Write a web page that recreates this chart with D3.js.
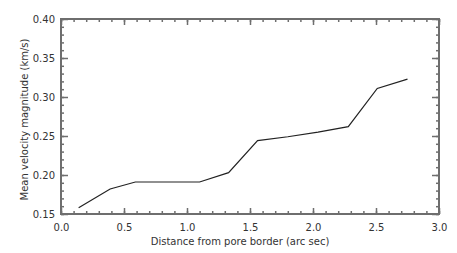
<!DOCTYPE html>
<html>
<head>
<meta charset="utf-8">
<script src="https://cdn.jsdelivr.net/npm/d3@7"></script>
<style>
  body { margin: 0; background: #fff; }
  text { font-family: "DejaVu Sans", sans-serif; font-size: 10px; fill: #333; }
</style>
</head>
<body>
<div id="container"></div>
<script>
// distance from pore border (arc sec) and mean velocity (km/s)
var distance = [0.14, 0.39, 0.59, 1.10, 1.33, 1.56, 1.80, 2.04, 2.28, 2.51, 2.75];
var velocity = [0.158, 0.182, 0.191, 0.191, 0.203, 0.244, 0.249, 0.255, 0.262, 0.311, 0.323];

var xTicks = [0.0, 0.5, 1.0, 1.5, 2.0, 2.5, 3.0];
var yTicks = [0.15, 0.20, 0.25, 0.30, 0.35, 0.40];

var W = 457, H = 253;
var pLeft = 61, pRight = 439, pTop = 19, pBottom = 214;

var svg = d3.select("#container").append("svg")
    .attr("width", W)
    .attr("height", H);

var x = d3.scaleLinear().domain([0, 3]).range([pLeft, pRight]);
var y = d3.scaleLinear().domain([0.15, 0.40]).range([pBottom, pTop]);

var axisColor = "#6e6e6e";

// minor ticks
var xMinor = d3.range(0, 3.0001, 0.1);
var yMinor = d3.range(0.15, 0.40001, 0.01);

function axisG(axis, tx, ty) {
  var g = svg.append("g")
    .attr("transform", "translate(" + tx + "," + ty + ")")
    .call(axis);
  g.select(".domain").remove();
  g.selectAll("line").attr("stroke", axisColor).attr("stroke-width", 1.5);
  return g;
}

// bottom axis with labels
var gb = axisG(d3.axisBottom(x).tickValues(xTicks).tickSize(-6).tickPadding(10)
  .tickFormat(d3.format(".1f")), 0, pBottom);
gb.selectAll("text").attr("fill", "#333").style("font-size", "10px");
axisG(d3.axisBottom(x).tickValues(xMinor).tickSize(-3).tickFormat(""), 0, pBottom);

// top axis, ticks only
axisG(d3.axisTop(x).tickValues(xTicks).tickSize(-6).tickFormat(""), 0, pTop);
axisG(d3.axisTop(x).tickValues(xMinor).tickSize(-3).tickFormat(""), 0, pTop);

// left axis with labels
var gl = axisG(d3.axisLeft(y).tickValues(yTicks).tickSize(-7).tickPadding(6)
  .tickFormat(d3.format(".2f")), pLeft, 0);
gl.selectAll("text").attr("fill", "#333").style("font-size", "10px");
axisG(d3.axisLeft(y).tickValues(yMinor).tickSize(-3).tickFormat(""), pLeft, 0);

// right axis, ticks only
axisG(d3.axisRight(y).tickValues(yTicks).tickSize(-7).tickFormat(""), pRight, 0);
axisG(d3.axisRight(y).tickValues(yMinor).tickSize(-3).tickFormat(""), pRight, 0);

// frame
svg.append("rect")
  .attr("x", pLeft).attr("y", pTop)
  .attr("width", pRight - pLeft).attr("height", pBottom - pTop)
  .attr("fill", "none")
  .attr("stroke", axisColor)
  .attr("stroke-width", 2);

// data line
var pts = distance.map(function(d, i) { return [d, velocity[i]]; });
var line = d3.line()
  .x(function(d) { return x(d[0]); })
  .y(function(d) { return y(d[1]); });

svg.append("path")
  .attr("d", line(pts))
  .attr("fill", "none")
  .attr("stroke", "#222")
  .attr("stroke-width", 1.2);

// axis titles
svg.append("text")
  .attr("x", (pLeft + pRight) / 2 - 10)
  .attr("y", 245)
  .attr("text-anchor", "middle")
  .text("Distance from pore border (arc sec)");

svg.append("text")
  .attr("transform", "translate(28," + ((pTop + pBottom) / 2 + 3) + ") rotate(-90)")
  .attr("text-anchor", "middle")
  .text("Mean velocity magnitude (km/s)");
</script>
</body>
</html>
